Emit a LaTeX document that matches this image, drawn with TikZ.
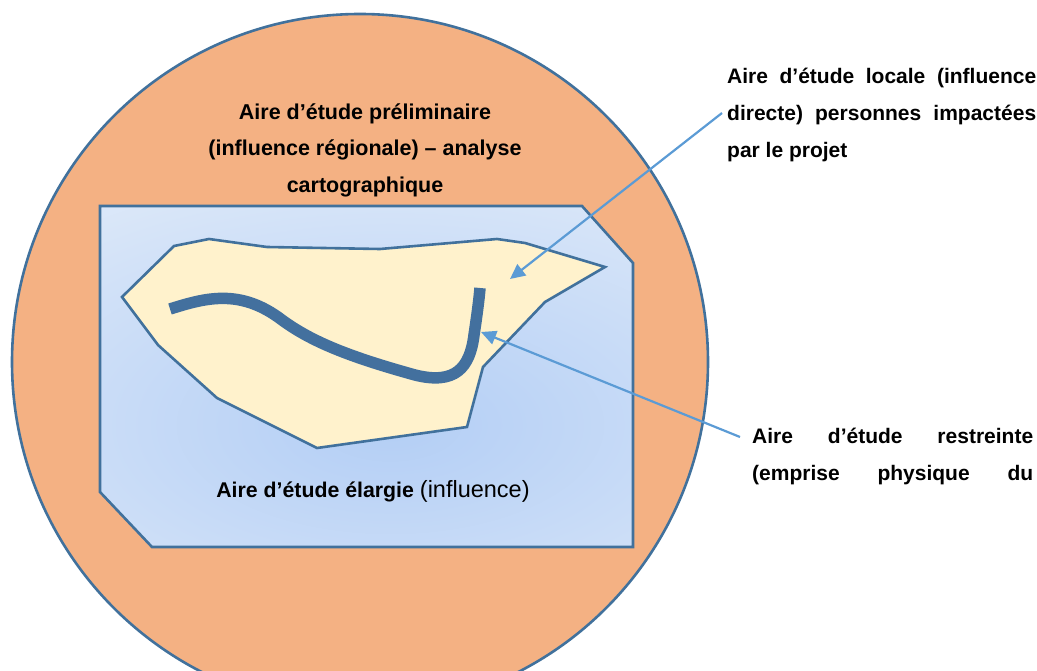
\documentclass[tikz,border=0pt]{standalone}
\usepackage{fontspec}
\setmainfont{Liberation Sans}
\usetikzlibrary{arrows.meta}
\definecolor{orangefill}{HTML}{F4B183}
\definecolor{edgeblue}{HTML}{41719C}
\definecolor{creamfill}{HTML}{FFF2CC}
\definecolor{lightblue}{HTML}{DFEAF9}
\definecolor{midblue}{HTML}{B3CEF5}
\definecolor{arrowblue}{HTML}{5B9BD5}
\definecolor{roadblue}{HTML}{43709E}
\begin{document}
\begin{tikzpicture}[x=1pt,y=-1pt,
  edge/.style={draw=edgeblue, line width=2.6pt, line join=miter},
  lbl/.style={font=\fontsize{21}{36.5}\selectfont\bfseries, inner sep=0pt, text=black},
  pointer/.style={draw=arrowblue, line width=2.2pt, -{Triangle[length=15pt,width=14pt]}},
]
\useasboundingbox (0,0) rectangle (1037,671);
\clip (0,0) rectangle (1037,671);

% outer region
\path[fill=orangefill, edge] (360,362) circle (348);

% enlarged study area (chamfered rectangle)
\def\rectpath{(100,206) -- (582,206) -- (633,263) -- (633,547) -- (152,547) -- (100,492) -- cycle}
\begin{scope}
  \clip \rectpath;
  \shade[inner color=midblue, outer color=lightblue] (-180,135) rectangle (960,715);
\end{scope}
\draw[edge] \rectpath;

% local study area (polygon)
\draw[edge, fill=creamfill] (174,246) -- (209,239) -- (267,247) -- (380,249) -- (497,239)
  -- (525,243) -- (605,267) -- (545,302) -- (483,367) -- (467,427) -- (317,448)
  -- (217,398) -- (158,345) -- (122,297) -- cycle;

% project footprint
\draw[draw=roadblue, line width=11.5pt, line cap=butt]
  (170,309) .. controls (205,298) and (240,288) .. (282,320)
  .. controls (312,342) and (350,357) .. (415,375)
  .. controls (455,385) and (470,368) .. (474,335)
  .. controls (477,315) and (479,300) .. (480,288);

% texts
\node[lbl, align=center, anchor=north, font=\fontsize{21.5}{36.5}\selectfont\bfseries] (prelim) at (365,103.5)
  {Aire d’étude préliminaire\\(influence régionale) – analyse\\cartographique};

\node[lbl, anchor=base, font=\fontsize{21.3}{25}\selectfont] (elargie) at (373,497)
  {\textbf{Aire d’étude élargie} {\fontsize{23.5}{25}\selectfont\mdseries(influence)}};

\node[lbl, align=left, anchor=north west, font=\fontsize{21}{37}\selectfont\bfseries] (locale) at (727,67.6)
  {\makebox[309pt][s]{Aire d’étude locale (influence}\\
   \makebox[309pt][s]{directe) personnes impactées}\\
   par le projet};

\node[lbl, align=left, anchor=north west, font=\fontsize{21}{37}\selectfont\bfseries] (restreinte) at (752,427.6)
  {\makebox[281pt][s]{Aire d’étude restreinte}\\
   \makebox[281pt][s]{(emprise physique du}};

% pointers
\coordinate (locstart) at (722,113);
\coordinate (loctip) at (510,279);
\coordinate (resstart) at (740,437);
\coordinate (restip) at (481,332);
\draw[pointer] (locstart) -- (loctip);
\draw[pointer] (resstart) -- (restip);
\end{tikzpicture}
\end{document}
